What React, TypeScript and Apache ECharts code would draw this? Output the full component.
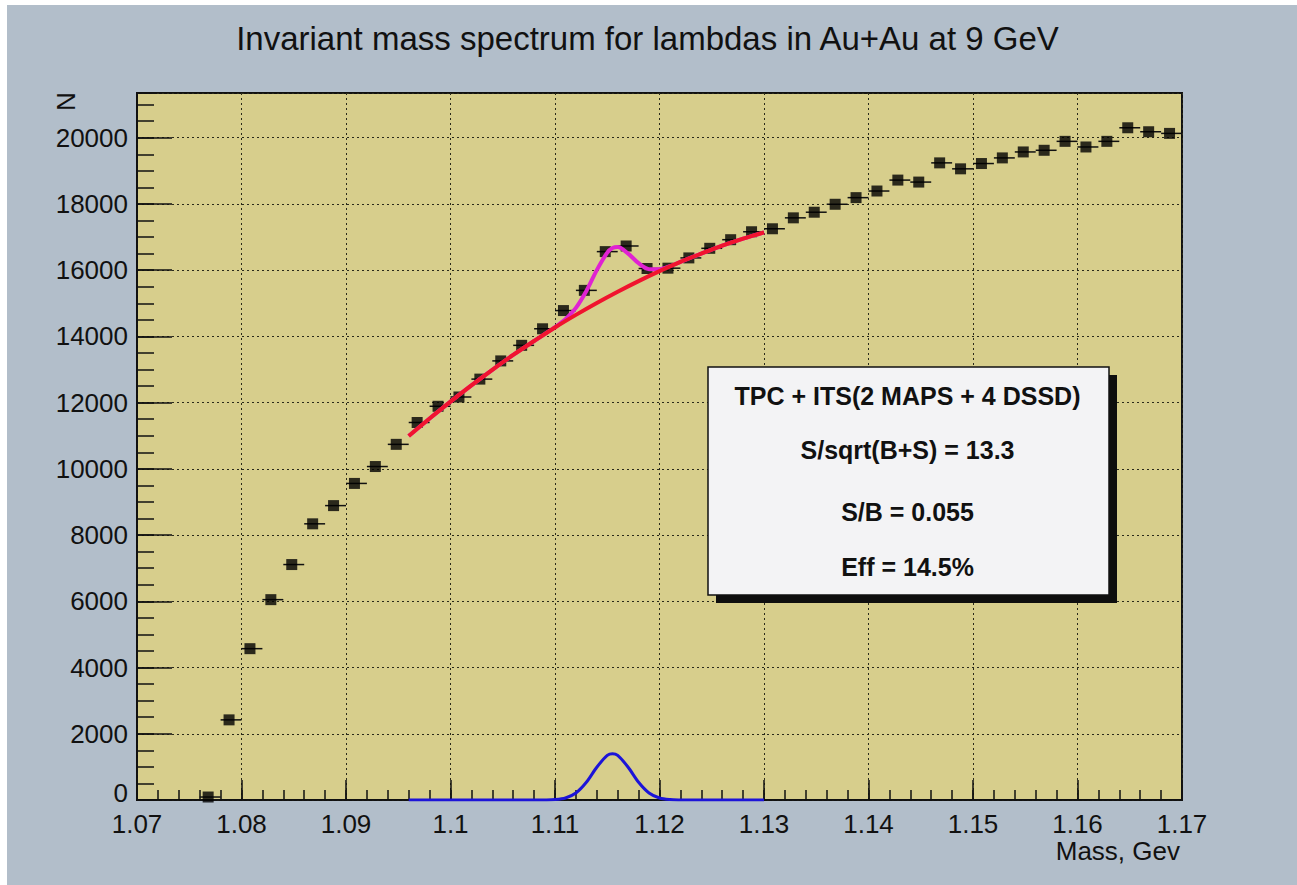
import React, { useEffect, useRef } from "react";
import * as echarts from "echarts";

const FONT = '"Liberation Sans", Arial, Helvetica, sans-serif';

// Histogram: bin centres (GeV) and counts
const massBins = [
  1.077, 1.079, 1.081, 1.083, 1.085, 1.087, 1.089, 1.091, 1.093, 1.095,
  1.097, 1.099, 1.101, 1.103, 1.105, 1.107, 1.109, 1.111, 1.113, 1.115,
  1.117, 1.119, 1.121, 1.123, 1.125, 1.127, 1.129, 1.131, 1.133, 1.135,
  1.137, 1.139, 1.141, 1.143, 1.145, 1.147, 1.149, 1.151, 1.153, 1.155,
  1.157, 1.159, 1.161, 1.163, 1.165, 1.167, 1.169,
];
const counts = [
  90, 2420, 4570, 6050, 7110, 8340, 8890, 9560, 10070, 10740,
  11400, 11890, 12170, 12710, 13260, 13730, 14230, 14780, 15390, 16560,
  16730, 16050, 16060, 16370, 16660, 16920, 17160, 17250, 17580, 17750,
  17990, 18190, 18390, 18720, 18660, 19240, 19060, 19220, 19390, 19570,
  19620, 19890, 19720, 19890, 20300, 20180, 20130,
];
const binHalfWidth = 0.001;

// Background fit (red)
const bkgX = [
  1.096, 1.098, 1.1, 1.102, 1.104, 1.106, 1.108, 1.11, 1.112, 1.114,
  1.116, 1.118, 1.12, 1.122, 1.124, 1.126, 1.128, 1.13,
];
const bkgY = [
  10990, 11520, 12030, 12520, 12990, 13440, 13860, 14270, 14650, 15010,
  15350, 15670, 15970, 16250, 16500, 16740, 16950, 17140,
];

// Total fit (magenta)
const totX = [
  1.096, 1.098, 1.1, 1.102, 1.104, 1.106, 1.108, 1.109, 1.11, 1.111,
  1.112, 1.113, 1.114, 1.115, 1.1155, 1.116, 1.117, 1.118, 1.119, 1.12,
  1.121, 1.122, 1.124, 1.126, 1.128, 1.13,
];
const totY = [
  10990, 11520, 12030, 12520, 12990, 13440, 13860, 14070, 14280, 14520,
  14860, 15370, 16000, 16530, 16670, 16700, 16500, 16210, 16030, 16030,
  16120, 16250, 16500, 16740, 16950, 17140,
];

// Signal peak (blue)
const sigX = [
  1.096, 1.104, 1.108, 1.109, 1.11, 1.111, 1.112, 1.113, 1.114, 1.115,
  1.1155, 1.116, 1.117, 1.118, 1.119, 1.12, 1.121, 1.122, 1.123, 1.126, 1.13,
];
const sigY = [
  0, 0, 0, 2, 13, 61, 211, 534, 990, 1347,
  1400, 1347, 990, 534, 211, 61, 13, 2, 0, 0, 0,
];

const titleText = "Invariant mass spectrum for lambdas in Au+Au at 9 GeV";
const xTitle = "Mass, Gev";
const yTitle = "N";
const yZeroLabel = "0";
const boxLines = [
  "TPC + ITS(2 MAPS + 4 DSSD)",
  "S/sqrt(B+S) = 13.3",
  "S/B = 0.055",
  "Eff = 14.5%",
];

const INK = "#111111";

function zip(xs: number[], ys: number[]) {
  return xs.map((x, i) => [x, ys[i]]);
}

export default function App() {
  const ref = useRef<HTMLDivElement>(null);

  useEffect(() => {
    if (!ref.current) return;
    const chart = echarts.init(ref.current, null, { renderer: "svg" });
    const tickStyle = { color: INK, width: 1.5 };
    const option: any = {
      animation: false,
      backgroundColor: "#b2beca",
      textStyle: { fontFamily: FONT },
      grid: {
        left: 130,
        right: 115,
        top: 88,
        bottom: 85,
        show: true,
        backgroundColor: "#d7ce8c",
        borderColor: INK,
        borderWidth: 2,
      },
      xAxis: [
        {
          type: "value",
          min: 1.07,
          max: 1.17,
          interval: 0.01,
          axisLine: { show: true, lineStyle: { color: INK, width: 1.5 } },
          axisTick: { show: true, inside: true, length: 20, lineStyle: tickStyle },
          axisLabel: {
            margin: 13,
            fontSize: 26,
            lineHeight: 22,
            color: INK,
            fontFamily: FONT,
            formatter: (v: number) => String(Math.round(v * 1000) / 1000),
          },
          splitLine: { show: true, lineStyle: { color: "#2a2a1a", width: 1, type: [2, 3] } },
        },
        {
          type: "value",
          min: 1.07,
          max: 1.17,
          interval: 0.002,
          position: "bottom",
          axisLine: { show: false },
          axisTick: { show: true, inside: true, length: 10, lineStyle: tickStyle },
          axisLabel: { show: false },
          splitLine: { show: false },
        },
      ],
      yAxis: [
        {
          type: "value",
          min: 0,
          max: 21350,
          interval: 2000,
          axisLine: { show: true, lineStyle: { color: INK, width: 1.5 } },
          axisTick: { show: true, inside: true, length: 35, lineStyle: tickStyle },
          axisLabel: {
            margin: 9,
            fontSize: 26,
            lineHeight: 18,
            color: INK,
            fontFamily: FONT,
            showMaxLabel: false,
            showMinLabel: false,
            formatter: (v: number) => String(v),
          },
          splitLine: { show: true, lineStyle: { color: "#2a2a1a", width: 1, type: [2, 3] } },
        },
        {
          type: "value",
          min: 0,
          max: 21350,
          interval: 500,
          position: "left",
          axisLine: { show: false },
          axisTick: { show: true, inside: true, length: 17, lineStyle: tickStyle },
          axisLabel: { show: false },
          splitLine: { show: false },
        },
      ],
      series: [
        {
          type: "custom",
          name: "errors",
          xAxisIndex: 0,
          yAxisIndex: 0,
          z: 3,
          data: zip(massBins, counts),
          renderItem: (params: any, api: any) => {
            const x = api.value(0);
            const y = api.value(1);
            const p1 = api.coord([x - binHalfWidth, y]);
            const p2 = api.coord([x + binHalfWidth, y]);
            return {
              type: "line",
              shape: { x1: p1[0], y1: p1[1], x2: p2[0], y2: p2[1] },
              style: { stroke: INK, lineWidth: 1.5 },
            };
          },
        },
        {
          type: "scatter",
          name: "data",
          xAxisIndex: 0,
          yAxisIndex: 0,
          z: 4,
          symbol: "rect",
          symbolSize: 11,
          symbolOffset: [-2, 0],
          itemStyle: { color: "#000000" },
          data: zip(massBins, counts),
        },
        {
          type: "line",
          name: "total",
          xAxisIndex: 0,
          yAxisIndex: 0,
          z: 5,
          smooth: 0.3,
          showSymbol: false,
          symbol: "none",
          lineStyle: { color: "#e022d2", width: 4 },
          data: zip(totX, totY),
        },
        {
          type: "line",
          name: "background",
          xAxisIndex: 0,
          yAxisIndex: 0,
          z: 6,
          smooth: 0.3,
          showSymbol: false,
          symbol: "none",
          lineStyle: { color: "#f0142e", width: 4 },
          data: zip(bkgX, bkgY),
        },
        {
          type: "line",
          name: "signal",
          xAxisIndex: 0,
          yAxisIndex: 0,
          z: 6,
          smooth: 0.3,
          showSymbol: false,
          symbol: "none",
          lineStyle: { color: "#1c14d8", width: 3 },
          data: zip(sigX, sigY),
        },
      ],
      graphic: [
        {
          type: "text",
          x: 640.5,
          y: 33.5,
          style: {
            text: titleText,
            fontSize: 33,
            fontFamily: FONT,
            fill: INK,
            align: "center",
            verticalAlign: "middle",
          },
        },
        {
          type: "text",
          x: 58.5,
          y: 96.5,
          rotation: Math.PI / 2,
          style: {
            text: yTitle,
            fontSize: 26,
            fontFamily: FONT,
            fill: INK,
            align: "center",
            verticalAlign: "middle",
          },
        },
        {
          type: "text",
          x: 121,
          y: 788,
          style: {
            text: yZeroLabel,
            fontSize: 26,
            fontFamily: FONT,
            fill: INK,
            align: "right",
            verticalAlign: "middle",
          },
        },
        {
          type: "text",
          x: 1173,
          y: 846,
          style: {
            text: xTitle,
            fontSize: 26,
            fontFamily: FONT,
            fill: INK,
            align: "right",
            verticalAlign: "middle",
          },
        },
        {
          type: "rect",
          z: 100,
          shape: { x: 709, y: 370, width: 401, height: 228 },
          style: { fill: "#0e0e0e" },
        },
        {
          type: "rect",
          z: 101,
          shape: { x: 701, y: 362, width: 401, height: 228 },
          style: { fill: "#f3f3f5", stroke: INK, lineWidth: 1.5 },
        },
        ...boxLines.map((t, i) => ({
          type: "text",
          z: 102,
          x: 900.5,
          y: [390.5, 445, 506.5, 561.5][i],
          style: {
            text: t,
            fontSize: 25,
            fontWeight: "bold",
            fontFamily: FONT,
            fill: INK,
            align: "center",
            verticalAlign: "middle",
          },
        })),
      ],
    };
    chart.setOption(option);
    return () => chart.dispose();
  }, []);

  return (
    <div
      ref={ref}
      style={{ position: "absolute", left: 7, top: 5, width: 1290, height: 880 }}
    />
  );
}
